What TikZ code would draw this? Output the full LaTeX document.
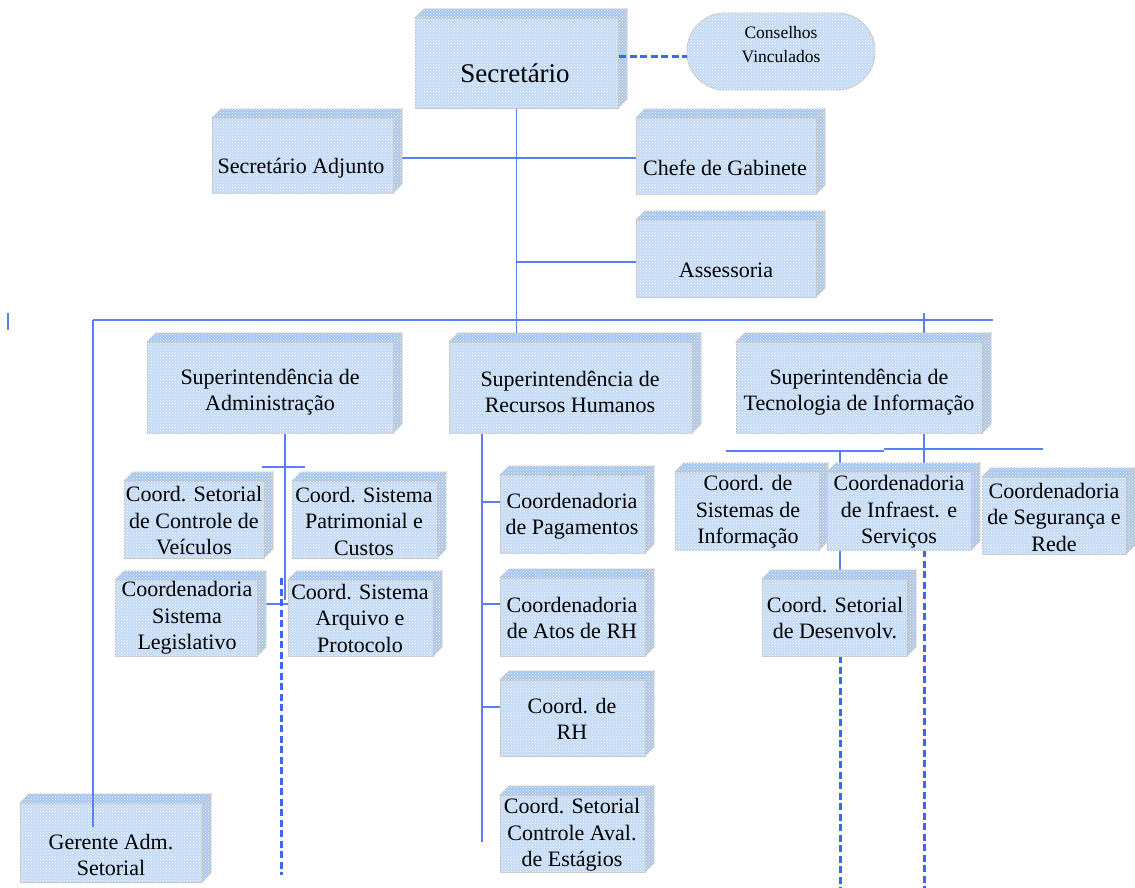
\documentclass[tikz,border=0pt]{standalone}
\usepackage{fontspec}
\setmainfont{Liberation Serif}
\usetikzlibrary{patterns,calc}
\definecolor{boxfill}{HTML}{C3DAF7}
\definecolor{topfill}{HTML}{A2C5F2}
\definecolor{sidefill}{HTML}{AFC6E4}
\definecolor{edgec}{HTML}{C6C6C6}
\definecolor{connc}{HTML}{5A7EF6}
\definecolor{dashc}{HTML}{3B67F3}
\pgfdeclarelayer{bg}
\pgfsetlayers{bg,main}
\tikzset{
  front/.style={draw=edgec, line width=0.9pt, fill=boxfill,
    postaction={pattern=crosshatch dots, pattern color=white},
    inner sep=0pt, outer sep=0pt},
  topface/.style={draw=edgec, line width=0.9pt, fill=topfill,
    postaction={pattern=crosshatch dots, pattern color=white}},
  sideface/.style={draw=edgec, line width=0.9pt, fill=sidefill,
    postaction={pattern=crosshatch dots, pattern color=white!85!sidefill}},
  lbl/.style={align=center, font=\fontsize{22}{26.5}\selectfont, inner sep=0pt, text=black},
  conn/.style={draw=connc, line width=1.3pt},
  dline/.style={draw=dashc, line width=3pt, dash pattern=on 7pt off 3.5pt},
}
\newcommand\orgbox[5]{%
  \path[topface] (#2,#3) -- (#2+9,#3-9) -- (#4+9,#3-9) -- (#4,#3) -- cycle;
  \path[sideface] (#4,#3) -- (#4+9,#3-9) -- (#4+9,#5-9) -- (#4,#5) -- cycle;
  \node[front, minimum width={(#4-#2)*1pt}, minimum height={(#5-#3)*1pt}] (#1) at ({(#2+#4)/2},{(#3+#5)/2}) {};
}
\begin{document}
\begin{tikzpicture}[x=1pt,y=-1pt]
\useasboundingbox (0,0) rectangle (1135,888);

% boxes
\orgbox{sec}{415}{18}{618}{108}
\node[front, minimum width=188pt, minimum height=77pt, rounded corners=38pt] (cons) at (781,51.5) {};
\orgbox{adj}{212}{118}{393}{193}
\orgbox{chefe}{636}{118}{816}{194}
\orgbox{ass}{636}{220}{816}{297}
\orgbox{adm}{147}{342}{393}{433}
\orgbox{rh}{449}{342}{692}{433}
\orgbox{ti}{736}{342}{982}{433}
\orgbox{vei}{124}{481}{264}{558}
\orgbox{pat}{292}{481}{437}{558}
\orgbox{leg}{115}{580}{257}{656}
\orgbox{arq}{288}{580}{433}{656}
\orgbox{pag}{500}{475}{645}{553}
\orgbox{atos}{500}{578}{645}{656}
\orgbox{crh}{500}{680}{645}{756}
\orgbox{est}{500}{795}{645}{872}
\orgbox{si}{675}{472}{819}{550}
\orgbox{inf}{827}{472}{971}{550}
\orgbox{seg}{982}{477}{1126}{554}
\orgbox{des}{762}{579}{907}{656}
\orgbox{ger}{20}{803}{202}{882}

% labels
\node[lbl, font=\fontsize{27}{30}\selectfont] (secL) at (515,73) {Secretário};
\node[lbl, font=\fontsize{17.5}{24}\selectfont] (consL) at (781,45) {Conselhos\\Vinculados};
\node[lbl] (adjL) at (301,168) {Secretário Adjunto};
\node[lbl] (chefeL) at (725,168) {Chefe de Gabinete};
\node[lbl] (assL) at (726,270) {Assessoria};
\node[lbl] (admL) at (270,392) {Superintendência de\\Administração};
\node[lbl] (rhL) at (570,392) {Superintendência de\\Recursos Humanos};
\node[lbl] (tiL) at (859,392) {Superintendência de\\Tecnologia de Informação};
\node[lbl] (veiL) at (194,521) {Coord. Setorial\\de Controle de\\Veículos};
\node[lbl] (patL) at (364,521) {Coord. Sistema\\Patrimonial e\\Custos};
\node[lbl] (legL) at (187,618) {Coordenadoria\\Sistema\\Legislativo};
\node[lbl] (arqL) at (360,618) {Coord. Sistema\\Arquivo e\\Protocolo};
\node[lbl] (pagL) at (572,516) {Coordenadoria\\de Pagamentos};
\node[lbl] (atosL) at (572,618) {Coordenadoria\\de Atos de RH};
\node[lbl] (crhL) at (572,719) {Coord. de\\RH};
\node[lbl] (estL) at (572,835) {Coord. Setorial\\Controle Aval.\\de Estágios};
\node[lbl] (siL) at (748,512) {Coord. de\\Sistemas de\\Informação};
\node[lbl] (infL) at (899,512) {Coordenadoria\\de Infraest. e\\Serviços};
\node[lbl] (segL) at (1054,517) {Coordenadoria\\de Segurança e\\Rede};
\node[lbl] (desL) at (835,618) {Coord. Setorial\\de Desenvolv.};
\node[lbl] (gerL) at (111,855) {Gerente Adm.\\Setorial};

% connector coordinates
\coordinate (barL) at (93,320);
\coordinate (barR) at (993,320);
\coordinate (stubA) at (8,313);
\coordinate (stubB) at (8,330);
\coordinate (tiTick) at (924,313);
\coordinate (gerEnd) at (93,827);
\coordinate (admA) at (262,467);
\coordinate (admB) at (305,467);
\coordinate (admEnd) at (285,600);
\coordinate (admC) at (266,604);
\coordinate (admD) at (290,604);
\coordinate (admDashA) at (281,578);
\coordinate (admDashB) at (281,875);
\coordinate (rhX) at (482,842);
\coordinate (tiA) at (726,451);
\coordinate (tiM) at (884,451);
\coordinate (tiM2) at (884,449);
\coordinate (tiB) at (1043,449);
\coordinate (siX) at (840,451);
\coordinate (bottomA) at (840,888);
\coordinate (bottomB) at (924,888);

\begin{pgfonlayer}{bg}
  \draw[conn] (sec.south) -- (sec.south |- rh.north);
  \draw[conn] (adj.east |- 0,158) -- (chefe.west |- 0,158);
  \draw[conn] (sec.south |- 0,262) -- (ass.west |- 0,262);
  \draw[conn] (barL) -- (barR);
  \draw[conn] (stubA) -- (stubB);
  \draw[conn] (tiTick) -- (tiTick |- ti.north);
  \draw[conn] (tiTick |- ti.south) -- (tiTick |- inf.north);
  \draw[conn] (tiA) -- (tiM);
  \draw[conn] (tiM2) -- (tiB);
  \draw[conn] (siX) -- (siX |- inf.north);
  \draw[conn] (siX |- inf.south) -- (siX |- des.north);
  \draw[dline] (siX |- des.south) -- (bottomA);
  \draw[dline] (tiTick |- inf.south) -- (bottomB);
  \draw[conn] (adm.south -| admEnd) -- (admEnd);
  \draw[conn] (admA) -- (admB);
  \draw[conn] (admC) -- (admD);
  \draw[dline] (admDashA) -- (admDashB);
  \draw[conn] (rhX |- rh.south) -- (rhX);
  \draw[conn] (rhX |- 0,502) -- (pag.west |- 0,502);
  \draw[conn] (rhX |- 0,604) -- (atos.west |- 0,604);
  \draw[conn] (rhX |- 0,707) -- (crh.west |- 0,707);
\end{pgfonlayer}
\draw[dline] ([xshift=1pt]sec.east |- 0,57) -- (cons.west |- 0,57);
\draw[conn] (barL) -- (gerEnd);
\end{tikzpicture}
\end{document}
